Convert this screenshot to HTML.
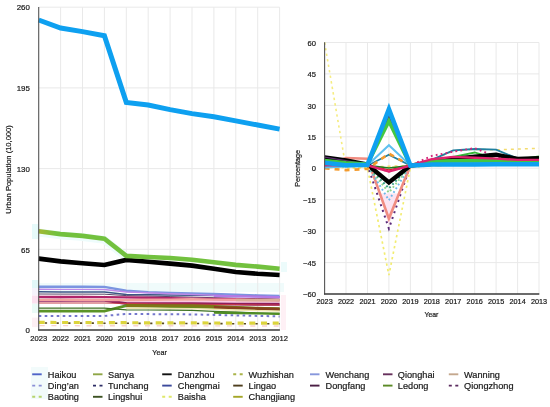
<!DOCTYPE html>
<html><head><meta charset="utf-8"><style>
html,body{margin:0;padding:0;background:#fff;}
body{width:550px;height:407px;position:relative;overflow:hidden;font-family:"Liberation Sans", sans-serif;}
svg text{font-family:"Liberation Sans", sans-serif;stroke:#181818;stroke-width:0.2px;}
</style></head><body>
<svg width="550" height="407" viewBox="0 0 550 407" style="position:absolute;left:0;top:0;will-change:transform">
<defs><linearGradient id="sg" gradientUnits="userSpaceOnUse" x1="39" y1="0" x2="56" y2="0"><stop offset="0" stop-color="#a2b834"/><stop offset="0.45" stop-color="#8cbc38"/><stop offset="1" stop-color="#72c13e"/></linearGradient></defs>
<rect x="32" y="224" width="7" height="15" fill="#e6fafa"/>
<rect x="32" y="280" width="7" height="8" fill="#e2f8f8"/>
<rect x="32" y="288" width="7" height="7.6" fill="#f5f3fb"/>
<rect x="32" y="295.6" width="7" height="8.1" fill="#fbe0ef"/>
<rect x="32" y="303.7" width="7" height="9.3" fill="#eafaf7"/>
<rect x="32" y="317.6" width="7" height="9.5" fill="#fdeff4"/>
<rect x="39" y="283" width="245" height="9" fill="#f0fbfb"/>
<rect x="281" y="262" width="6" height="10" fill="#ecfbfb"/>
<rect x="281" y="295" width="5" height="35" fill="#fef0f5"/>
<rect x="31" y="367" width="17" height="32" fill="#f2fbfb"/>
<line x1="60.6" y1="7.2" x2="60.6" y2="330.0" stroke="#e9e9e9" stroke-width="1"/>
<line x1="82.5" y1="7.2" x2="82.5" y2="330.0" stroke="#e9e9e9" stroke-width="1"/>
<line x1="104.4" y1="7.2" x2="104.4" y2="330.0" stroke="#e9e9e9" stroke-width="1"/>
<line x1="126.3" y1="7.2" x2="126.3" y2="330.0" stroke="#e9e9e9" stroke-width="1"/>
<line x1="148.2" y1="7.2" x2="148.2" y2="330.0" stroke="#e9e9e9" stroke-width="1"/>
<line x1="170.1" y1="7.2" x2="170.1" y2="330.0" stroke="#e9e9e9" stroke-width="1"/>
<line x1="192.0" y1="7.2" x2="192.0" y2="330.0" stroke="#e9e9e9" stroke-width="1"/>
<line x1="213.9" y1="7.2" x2="213.9" y2="330.0" stroke="#e9e9e9" stroke-width="1"/>
<line x1="235.8" y1="7.2" x2="235.8" y2="330.0" stroke="#e9e9e9" stroke-width="1"/>
<line x1="257.7" y1="7.2" x2="257.7" y2="330.0" stroke="#e9e9e9" stroke-width="1"/>
<line x1="279.6" y1="7.2" x2="279.6" y2="330.0" stroke="#e9e9e9" stroke-width="1"/>
<line x1="38.7" y1="249.3" x2="279.6" y2="249.3" stroke="#e9e9e9" stroke-width="1"/>
<line x1="38.7" y1="168.6" x2="279.6" y2="168.6" stroke="#e9e9e9" stroke-width="1"/>
<line x1="38.7" y1="87.9" x2="279.6" y2="87.9" stroke="#e9e9e9" stroke-width="1"/>
<line x1="38.7" y1="7.2" x2="279.6" y2="7.2" stroke="#e9e9e9" stroke-width="1"/>
<polygon points="126.3,300.6 279.6,301.0 279.6,302.6 126.3,303.0" fill="#f9c8e2"/>
<polyline points="38.7,286.7 60.6,286.8 82.5,286.8 104.4,286.9 126.3,290.8 148.2,292.3 170.1,292.9 192.0,293.4 213.9,294.0 235.8,294.7 257.7,295.4 279.6,296.0" fill="none" stroke="#7b95e0" stroke-width="2.4"/>
<polyline points="38.7,291.8 60.6,291.9 82.5,292.0 104.4,292.1 126.3,294.5 148.2,294.7 170.1,295.0 192.0,295.2 213.9,295.6 235.8,296.1 257.7,296.6 279.6,297.0" fill="none" stroke="#3b5686" stroke-width="1.5"/>
<polyline points="38.7,294.0 60.6,294.1 82.5,294.1 104.4,294.2 126.3,295.6 148.2,296.1 170.1,296.6 192.0,297.1 213.9,297.7 235.8,298.2 257.7,298.7 279.6,299.2" fill="none" stroke="#5a4868" stroke-width="1.0"/>
<polyline points="38.7,300.3 60.6,300.3 82.5,300.4 104.4,300.4 126.3,303.5 148.2,303.6 170.1,303.7 192.0,303.8 213.9,304.0 235.8,304.1 257.7,304.2 279.6,304.3" fill="none" stroke="#8e1d5c" stroke-width="2.9"/>
<polyline points="38.7,296.9 60.6,297.0 82.5,297.0 104.4,297.1 126.3,297.4 148.2,297.8 170.1,298.2 192.0,298.6 213.9,299.0 235.8,299.3 257.7,299.6 279.6,300.0" fill="none" stroke="#b0246a" stroke-width="2.4"/>
<polyline points="38.7,289.3 60.6,289.4 82.5,289.4 104.4,289.5 126.3,292.0 148.2,292.8 170.1,293.7 192.0,294.5 213.9,295.2 235.8,295.9 257.7,296.5 279.6,297.2" fill="none" stroke="#bd8ae8" stroke-width="1.4"/>
<polyline points="213.9,295.8 235.8,296.3 257.7,296.7 279.6,297.2" fill="none" stroke="#b47ae6" stroke-width="2.2"/>
<polyline points="38.7,299.9 60.6,299.9 82.5,300.0 104.4,300.0 126.3,300.1 148.2,299.8 170.1,299.6 192.0,299.3 213.9,299.6 235.8,299.8 257.7,300.1 279.6,300.3" fill="none" stroke="#f3a2a0" stroke-width="2.4"/>
<polyline points="235.8,300.0 257.7,300.1 279.6,300.3" fill="none" stroke="#dcae98" stroke-width="2.6"/>
<polyline points="38.7,303.0 60.6,303.0 82.5,303.0 104.4,303.0 126.3,303.5 148.2,303.7 170.1,303.9 192.0,304.1 213.9,304.4 235.8,304.6 257.7,304.8 279.6,305.0" fill="none" stroke="#c83c48" stroke-width="1.0"/>
<polyline points="38.7,311.1 60.6,311.1 82.5,311.1 104.4,311.1 126.3,305.6 148.2,306.1 170.1,306.6 192.0,307.1 213.9,307.5 235.8,308.0 257.7,308.5 279.6,309.0" fill="none" stroke="#5b9326" stroke-width="2.8"/>
<polyline points="126.3,305.6 148.2,305.7 170.1,305.7 192.0,305.8 213.9,306.6 235.8,307.5 257.7,308.3 279.6,309.1" fill="none" stroke="#7e7616" stroke-width="3.0"/>
<polyline points="213.9,307.4 235.8,308.0 257.7,308.5 279.6,309.1" fill="none" stroke="#86421e" stroke-width="2.6"/>
<polyline points="126.3,308.2 148.2,308.3 170.1,308.5 192.0,308.6 213.9,309.3 235.8,310.0 257.7,310.6 279.6,311.1" fill="none" stroke="#f2e6b0" stroke-width="1.4"/>
<polyline points="38.7,308.2 60.6,308.2 82.5,308.2 104.4,308.2 126.3,309.8 148.2,310.0 170.1,310.2 192.0,310.4 213.9,311.3 235.8,312.2 257.7,313.0 279.6,313.8" fill="none" stroke="#3d7222" stroke-width="1.2"/>
<polyline points="213.9,312.6 235.8,313.0 257.7,313.4 279.6,313.8" fill="none" stroke="#4f8c24" stroke-width="2.4"/>
<polyline points="38.7,315.9 60.6,315.9 82.5,315.9 104.4,315.9 126.3,314.0 148.2,314.1 170.1,314.3 192.0,314.4 213.9,314.9 235.8,315.4 257.7,315.9 279.6,316.4" fill="none" stroke="#7477cc" stroke-width="2.0" stroke-dasharray="2.6 3.4" stroke-dashoffset="0"/>
<polyline points="38.7,325.6 60.6,325.6 82.5,325.7 104.4,325.7 126.3,325.7 148.2,325.8 170.1,325.8 192.0,325.9 213.9,325.9 235.8,325.9 257.7,326.0 279.6,326.0" fill="none" stroke="#f8d2cc" stroke-width="1.4" stroke-dasharray="5 6.7" stroke-dashoffset="-1"/>
<polyline points="38.7,322.4 60.6,322.5 82.5,322.5 104.4,322.6 126.3,322.7 148.2,322.8 170.1,322.8 192.0,322.9 213.9,323.0 235.8,323.1 257.7,323.1 279.6,323.2" fill="none" stroke="#dcd43c" stroke-width="3.2" stroke-dasharray="6 5.7" stroke-dashoffset="0"/>
<polyline points="38.7,323.0 60.6,323.1 82.5,323.1 104.4,323.2 126.3,323.3 148.2,323.4 170.1,323.4 192.0,323.5 213.9,323.6 235.8,323.7 257.7,323.7 279.6,323.8" fill="none" stroke="#5a4a20" stroke-width="1.6" stroke-dasharray="2.2 9.5" stroke-dashoffset="-6.2"/>
<polyline points="38.7,232.5 60.6,235.3 82.5,237.1 104.4,239.8 126.3,257.1" fill="none" stroke="#eefcfc" stroke-width="8" stroke-linecap="butt" stroke-linejoin="miter"/>
<polyline points="38.7,258.6 60.6,261.4 82.5,263.2 104.4,265.0 126.3,259.9 148.2,261.8 170.1,263.6 192.0,265.6 213.9,268.7 235.8,272.0 257.7,273.8 279.6,275.0" fill="none" stroke="#000" stroke-width="4.6" stroke-linecap="butt" stroke-linejoin="miter"/>
<polyline points="38.7,231.3 60.6,234.1 82.5,235.9 104.4,238.6 126.3,255.9 148.2,257.0 170.1,258.0 192.0,259.8 213.9,262.3 235.8,264.9 257.7,266.6 279.6,268.7" fill="none" stroke="url(#sg)" stroke-width="4.6" stroke-linecap="butt" stroke-linejoin="miter"/>
<polyline points="38.7,20.0 60.6,28.0 82.5,31.6 104.4,35.8 126.3,102.4 148.2,105.0 170.1,109.6 192.0,113.6 213.9,116.8 235.8,120.9 257.7,125.0 279.6,129.1" fill="none" stroke="#0ea0f0" stroke-width="5.0" stroke-linecap="butt" stroke-linejoin="miter"/>
<line x1="38.7" y1="6.9" x2="38.7" y2="330.5" stroke="#555" stroke-width="1.1"/>
<line x1="38.2" y1="330.0" x2="279.9" y2="330.0" stroke="#3a3a3a" stroke-width="1.3"/>
<text x="29.8" y="333.2" text-anchor="end" font-size="7.9" fill="#181818">0</text>
<text x="29.8" y="252.5" text-anchor="end" font-size="7.9" fill="#181818">65</text>
<text x="29.8" y="171.8" text-anchor="end" font-size="7.9" fill="#181818">130</text>
<text x="29.8" y="91.1" text-anchor="end" font-size="7.9" fill="#181818">195</text>
<text x="29.8" y="10.4" text-anchor="end" font-size="7.9" fill="#181818">260</text>
<text x="38.7" y="341.2" text-anchor="middle" font-size="7.6" fill="#181818">2023</text>
<text x="60.6" y="341.2" text-anchor="middle" font-size="7.6" fill="#181818">2022</text>
<text x="82.5" y="341.2" text-anchor="middle" font-size="7.6" fill="#181818">2021</text>
<text x="104.4" y="341.2" text-anchor="middle" font-size="7.6" fill="#181818">2020</text>
<text x="126.3" y="341.2" text-anchor="middle" font-size="7.6" fill="#181818">2019</text>
<text x="148.2" y="341.2" text-anchor="middle" font-size="7.6" fill="#181818">2018</text>
<text x="170.1" y="341.2" text-anchor="middle" font-size="7.6" fill="#181818">2017</text>
<text x="192.0" y="341.2" text-anchor="middle" font-size="7.6" fill="#181818">2016</text>
<text x="213.9" y="341.2" text-anchor="middle" font-size="7.6" fill="#181818">2015</text>
<text x="235.8" y="341.2" text-anchor="middle" font-size="7.6" fill="#181818">2014</text>
<text x="257.7" y="341.2" text-anchor="middle" font-size="7.6" fill="#181818">2013</text>
<text x="279.6" y="341.2" text-anchor="middle" font-size="7.6" fill="#181818">2012</text>
<text x="159.6" y="354.5" text-anchor="middle" font-size="7.2" fill="#181818">Year</text>
<text transform="translate(11.3,169.5) rotate(-90)" text-anchor="middle" font-size="7.55" fill="#181818">Urban Population (10,000)</text>
<line x1="346.0" y1="42.5" x2="346.0" y2="294.0" stroke="#e9e9e9" stroke-width="1"/>
<line x1="367.5" y1="42.5" x2="367.5" y2="294.0" stroke="#e9e9e9" stroke-width="1"/>
<line x1="388.9" y1="42.5" x2="388.9" y2="294.0" stroke="#e9e9e9" stroke-width="1"/>
<line x1="410.4" y1="42.5" x2="410.4" y2="294.0" stroke="#e9e9e9" stroke-width="1"/>
<line x1="431.8" y1="42.5" x2="431.8" y2="294.0" stroke="#e9e9e9" stroke-width="1"/>
<line x1="453.2" y1="42.5" x2="453.2" y2="294.0" stroke="#e9e9e9" stroke-width="1"/>
<line x1="474.7" y1="42.5" x2="474.7" y2="294.0" stroke="#e9e9e9" stroke-width="1"/>
<line x1="496.1" y1="42.5" x2="496.1" y2="294.0" stroke="#e9e9e9" stroke-width="1"/>
<line x1="517.6" y1="42.5" x2="517.6" y2="294.0" stroke="#e9e9e9" stroke-width="1"/>
<line x1="539.0" y1="42.5" x2="539.0" y2="294.0" stroke="#e9e9e9" stroke-width="1"/>
<line x1="324.6" y1="42.5" x2="539.0" y2="42.5" stroke="#e9e9e9" stroke-width="1"/>
<line x1="324.6" y1="73.9" x2="539.0" y2="73.9" stroke="#e9e9e9" stroke-width="1"/>
<line x1="324.6" y1="105.4" x2="539.0" y2="105.4" stroke="#e9e9e9" stroke-width="1"/>
<line x1="324.6" y1="136.8" x2="539.0" y2="136.8" stroke="#e9e9e9" stroke-width="1"/>
<line x1="324.6" y1="168.2" x2="539.0" y2="168.2" stroke="#e9e9e9" stroke-width="1"/>
<line x1="324.6" y1="199.7" x2="539.0" y2="199.7" stroke="#e9e9e9" stroke-width="1"/>
<line x1="324.6" y1="231.1" x2="539.0" y2="231.1" stroke="#e9e9e9" stroke-width="1"/>
<line x1="324.6" y1="262.6" x2="539.0" y2="262.6" stroke="#e9e9e9" stroke-width="1"/>
<polygon points="378.9,193.4 398.9,193.4 388.9,225.9" fill="#fbe4f1"/>
<polyline points="324.6,42.5 346.0,168.2 367.5,167.8 388.9,167.2 410.4,166.2 431.8,165.7 453.2,165.1 474.7,165.1 496.1,164.5 517.6,164.1 539.0,164.1" fill="none" stroke="#f5ec80" stroke-width="1.6" stroke-linecap="butt" stroke-linejoin="miter" stroke-dasharray="2.4 3.2"/>
<polyline points="324.6,167.4 346.0,167.6 367.5,168.2 388.9,275.1 410.4,167.6 431.8,165.7 453.2,165.1 474.7,164.7 496.1,164.5 517.6,164.1 539.0,163.6" fill="none" stroke="#f2ec70" stroke-width="1.7" stroke-linecap="butt" stroke-linejoin="miter" stroke-dasharray="2.4 3.2"/>
<polyline points="324.6,165.1 346.0,166.2 367.5,167.0 388.9,166.2 410.4,165.5 431.8,160.3 453.2,150.9 474.7,149.4 496.1,149.8 517.6,149.0 539.0,148.3" fill="none" stroke="#f3dc6e" stroke-width="1.5" stroke-linecap="butt" stroke-linejoin="miter" stroke-dasharray="3 4"/>
<polyline points="324.6,165.1 346.0,165.5 367.5,165.3 388.9,228.6 410.4,165.5 431.8,163.0 453.2,159.9 474.7,158.8 496.1,159.9 517.6,160.9 539.0,162.0" fill="none" stroke="#5a2a78" stroke-width="2.0" stroke-linecap="butt" stroke-linejoin="miter" stroke-dasharray="2 4"/>
<polyline points="324.6,165.7 346.0,158.0 367.5,158.8 388.9,218.6 410.4,165.5 431.8,162.0 453.2,159.9 474.7,159.9 496.1,160.3 517.6,161.5 539.0,162.4" fill="none" stroke="#f08c80" stroke-width="2.6" stroke-linecap="butt" stroke-linejoin="miter"/>
<polyline points="324.6,166.2 346.0,166.2 367.5,165.7 388.9,200.3 410.4,165.5 431.8,164.1 453.2,163.0 474.7,162.8 496.1,163.0 517.6,163.6 539.0,163.6" fill="none" stroke="#6ab8e8" stroke-width="1.9" stroke-linecap="butt" stroke-linejoin="miter" stroke-dasharray="1.8 2.6"/>
<polyline points="324.6,166.2 346.0,166.2 367.5,165.7 388.9,192.6 410.4,165.5 431.8,164.1 453.2,163.0 474.7,162.8 496.1,163.0 517.6,163.6 539.0,163.6" fill="none" stroke="#8fd48a" stroke-width="1.9" stroke-linecap="butt" stroke-linejoin="miter" stroke-dasharray="1.8 2.6"/>
<polyline points="324.6,166.2 346.0,166.2 367.5,165.7 388.9,188.4 410.4,165.5 431.8,164.1 453.2,163.0 474.7,162.8 496.1,163.0 517.6,163.6 539.0,163.6" fill="none" stroke="#2f9c86" stroke-width="1.9" stroke-linecap="butt" stroke-linejoin="miter" stroke-dasharray="1.8 2.6"/>
<polyline points="324.6,165.1 346.0,165.5 367.5,165.3 388.9,169.9 410.4,165.5 431.8,162.0 453.2,160.7 474.7,161.3 496.1,162.0 517.6,162.4 539.0,162.8" fill="none" stroke="#d62020" stroke-width="1.4" stroke-linecap="butt" stroke-linejoin="miter"/>
<polyline points="324.6,165.1 346.0,165.5 367.5,165.3 388.9,168.0 410.4,165.5 431.8,163.0 453.2,161.5 474.7,162.0 496.1,162.4 517.6,160.9 539.0,157.8" fill="none" stroke="#1f7a1f" stroke-width="1.4" stroke-linecap="butt" stroke-linejoin="miter"/>
<polyline points="324.6,166.2 346.0,165.9 367.5,165.7 388.9,154.8 410.4,165.5 431.8,159.9 453.2,150.4 474.7,149.0 496.1,149.6 517.6,158.6 539.0,160.3" fill="none" stroke="#1f7fa0" stroke-width="1.8" stroke-linecap="butt" stroke-linejoin="miter"/>
<polyline points="324.6,166.2 346.0,166.2 367.5,165.5 388.9,171.6 410.4,165.5 431.8,155.9 453.2,151.7 474.7,148.1 496.1,156.7 517.6,159.9 539.0,160.9" fill="none" stroke="#d2247a" stroke-width="1.9" stroke-linecap="butt" stroke-linejoin="miter" stroke-dasharray="1.8 3.2"/>
<polyline points="324.6,165.1 346.0,165.5 367.5,165.3 388.9,116.5 410.4,165.5 431.8,161.3 453.2,156.9 474.7,152.5 496.1,159.0 517.6,159.4 539.0,156.5" fill="none" stroke="#38b838" stroke-width="1.8" stroke-linecap="butt" stroke-linejoin="miter"/>
<polyline points="324.6,157.4 346.0,160.5 367.5,164.5 388.9,182.5 410.4,165.5 431.8,163.0 453.2,159.0 474.7,156.7 496.1,154.6 517.6,159.0 539.0,158.2" fill="none" stroke="#000" stroke-width="4.4" stroke-linecap="butt" stroke-linejoin="miter"/>
<polyline points="324.6,168.2 346.0,170.1 367.5,168.9 388.9,153.6 410.4,165.5 431.8,165.1 453.2,164.5 474.7,164.5 496.1,164.5 517.6,164.5 539.0,164.5" fill="none" stroke="#f39a2c" stroke-width="2.6" stroke-linecap="butt" stroke-linejoin="miter" stroke-dasharray="5 5"/>
<polyline points="324.6,167.4 346.0,166.6 367.5,165.3 388.9,145.2 410.4,165.5 431.8,161.8 453.2,161.8 474.7,161.8 496.1,161.8 517.6,161.8 539.0,161.8" fill="none" stroke="#5ec0f0" stroke-width="2.0" stroke-linecap="butt" stroke-linejoin="miter"/>
<polyline points="324.6,157.1 346.0,160.7 367.5,164.3 388.9,116.5 410.4,165.5 431.8,162.0 453.2,160.3 474.7,159.9 496.1,160.3 517.6,160.7 539.0,160.7" fill="none" stroke="#5a2d6e" stroke-width="1.2" stroke-linecap="butt" stroke-linejoin="miter"/>
<polyline points="324.6,160.5 346.0,162.8 367.5,164.1 388.9,121.1 410.4,165.5 431.8,161.3 453.2,160.9 474.7,160.7 496.1,160.7 517.6,160.7 539.0,160.7" fill="none" stroke="#42c742" stroke-width="3.6" stroke-linecap="butt" stroke-linejoin="miter"/>
<polyline points="324.6,165.1 346.0,165.5 367.5,165.3 388.9,171.6 410.4,165.5 431.8,159.2 453.2,156.9 474.7,157.8 496.1,158.6 517.6,159.9 539.0,159.9" fill="none" stroke="#e0226d" stroke-width="2.4" stroke-linecap="butt" stroke-linejoin="miter"/>
<polyline points="324.6,162.8 346.0,165.3 367.5,164.9 388.9,109.1 410.4,165.5 431.8,164.5 453.2,164.5 474.7,164.5 496.1,164.3 517.6,164.3 539.0,164.3" fill="none" stroke="#0ea0f0" stroke-width="4.6" stroke-linecap="butt" stroke-linejoin="miter"/>
<line x1="324.6" y1="42.2" x2="324.6" y2="294.5" stroke="#555" stroke-width="1.1"/>
<line x1="324.1" y1="294.0" x2="539.3" y2="294.0" stroke="#3a3a3a" stroke-width="1.3"/>
<text x="316" y="45.7" text-anchor="end" font-size="7.6" fill="#181818">60</text>
<text x="316" y="77.1" text-anchor="end" font-size="7.6" fill="#181818">45</text>
<text x="316" y="108.6" text-anchor="end" font-size="7.6" fill="#181818">30</text>
<text x="316" y="140.0" text-anchor="end" font-size="7.6" fill="#181818">15</text>
<text x="316" y="171.4" text-anchor="end" font-size="7.6" fill="#181818">0</text>
<text x="316" y="202.9" text-anchor="end" font-size="7.6" fill="#181818">−15</text>
<text x="316" y="234.3" text-anchor="end" font-size="7.6" fill="#181818">−30</text>
<text x="316" y="265.8" text-anchor="end" font-size="7.6" fill="#181818">−45</text>
<text x="316" y="297.2" text-anchor="end" font-size="7.6" fill="#181818">−60</text>
<text x="324.6" y="304.3" text-anchor="middle" font-size="7.3" fill="#181818">2023</text>
<text x="346.0" y="304.3" text-anchor="middle" font-size="7.3" fill="#181818">2022</text>
<text x="367.5" y="304.3" text-anchor="middle" font-size="7.3" fill="#181818">2021</text>
<text x="388.9" y="304.3" text-anchor="middle" font-size="7.3" fill="#181818">2020</text>
<text x="410.4" y="304.3" text-anchor="middle" font-size="7.3" fill="#181818">2019</text>
<text x="431.8" y="304.3" text-anchor="middle" font-size="7.3" fill="#181818">2018</text>
<text x="453.2" y="304.3" text-anchor="middle" font-size="7.3" fill="#181818">2017</text>
<text x="474.7" y="304.3" text-anchor="middle" font-size="7.3" fill="#181818">2016</text>
<text x="496.1" y="304.3" text-anchor="middle" font-size="7.3" fill="#181818">2015</text>
<text x="517.6" y="304.3" text-anchor="middle" font-size="7.3" fill="#181818">2014</text>
<text x="539.0" y="304.3" text-anchor="middle" font-size="7.3" fill="#181818">2013</text>
<text x="431.4" y="316.8" text-anchor="middle" font-size="6.9" fill="#181818">Year</text>
<text transform="translate(300.0,168.3) rotate(-90)" text-anchor="middle" font-size="7.2" fill="#181818">Percentage</text>
<line x1="32.2" y1="374.3" x2="41.7" y2="374.3" stroke="#4e63c8" stroke-width="1.9"/>
<text x="47.8" y="377.7" font-size="9.2" fill="#181818">Haikou</text>
<line x1="93.0" y1="374.3" x2="102.5" y2="374.3" stroke="#8fa646" stroke-width="1.9"/>
<text x="108.0" y="377.7" font-size="9.2" fill="#181818">Sanya</text>
<line x1="162.2" y1="374.3" x2="171.7" y2="374.3" stroke="#111" stroke-width="1.9"/>
<text x="177.8" y="377.7" font-size="9.2" fill="#181818">Danzhou</text>
<line x1="233.2" y1="374.3" x2="242.7" y2="374.3" stroke="#aab44a" stroke-width="1.9" stroke-dasharray="3 3.5"/>
<text x="248.6" y="377.7" font-size="9.2" fill="#181818">Wuzhishan</text>
<line x1="310.0" y1="374.3" x2="319.5" y2="374.3" stroke="#8797dc" stroke-width="1.9"/>
<text x="325.5" y="377.7" font-size="9.2" fill="#181818">Wenchang</text>
<line x1="383.0" y1="374.3" x2="392.5" y2="374.3" stroke="#67305c" stroke-width="1.9"/>
<text x="397.8" y="377.7" font-size="9.2" fill="#181818">Qionghai</text>
<line x1="448.8" y1="374.3" x2="458.3" y2="374.3" stroke="#c4a88e" stroke-width="1.9"/>
<text x="464.0" y="377.7" font-size="9.2" fill="#181818">Wanning</text>
<line x1="32.2" y1="385.6" x2="41.7" y2="385.6" stroke="#8a90d6" stroke-width="1.9" stroke-dasharray="3 3.5"/>
<text x="47.8" y="389.0" font-size="9.2" fill="#181818">Ding’an</text>
<line x1="93.0" y1="385.6" x2="102.5" y2="385.6" stroke="#2d2d66" stroke-width="1.9" stroke-dasharray="3 3.5"/>
<text x="108.0" y="389.0" font-size="9.2" fill="#181818">Tunchang</text>
<line x1="162.2" y1="385.6" x2="171.7" y2="385.6" stroke="#3c4a9c" stroke-width="1.9"/>
<text x="177.8" y="389.0" font-size="9.2" fill="#181818">Chengmai</text>
<line x1="233.2" y1="385.6" x2="242.7" y2="385.6" stroke="#4e3e1e" stroke-width="1.9"/>
<text x="248.6" y="389.0" font-size="9.2" fill="#181818">Lingao</text>
<line x1="310.0" y1="385.6" x2="319.5" y2="385.6" stroke="#4a1e44" stroke-width="1.9"/>
<text x="325.5" y="389.0" font-size="9.2" fill="#181818">Dongfang</text>
<line x1="383.0" y1="385.6" x2="392.5" y2="385.6" stroke="#5b8a26" stroke-width="1.9"/>
<text x="397.8" y="389.0" font-size="9.2" fill="#181818">Ledong</text>
<line x1="448.8" y1="385.6" x2="458.3" y2="385.6" stroke="#5a2a5e" stroke-width="1.9" stroke-dasharray="3 3.5"/>
<text x="464.0" y="389.0" font-size="9.2" fill="#181818">Qiongzhong</text>
<line x1="32.2" y1="396.8" x2="41.7" y2="396.8" stroke="#b6d46e" stroke-width="1.9" stroke-dasharray="3 3.5"/>
<text x="47.8" y="400.2" font-size="9.2" fill="#181818">Baoting</text>
<line x1="93.0" y1="396.8" x2="102.5" y2="396.8" stroke="#3c5222" stroke-width="1.9"/>
<text x="108.0" y="400.2" font-size="9.2" fill="#181818">Lingshui</text>
<line x1="162.2" y1="396.8" x2="171.7" y2="396.8" stroke="#dfe86a" stroke-width="1.9" stroke-dasharray="3 3.5"/>
<text x="177.8" y="400.2" font-size="9.2" fill="#181818">Baisha</text>
<line x1="233.2" y1="396.8" x2="242.7" y2="396.8" stroke="#a4a627" stroke-width="1.9"/>
<text x="248.6" y="400.2" font-size="9.2" fill="#181818">Changjiang</text>
</svg>
</body></html>
